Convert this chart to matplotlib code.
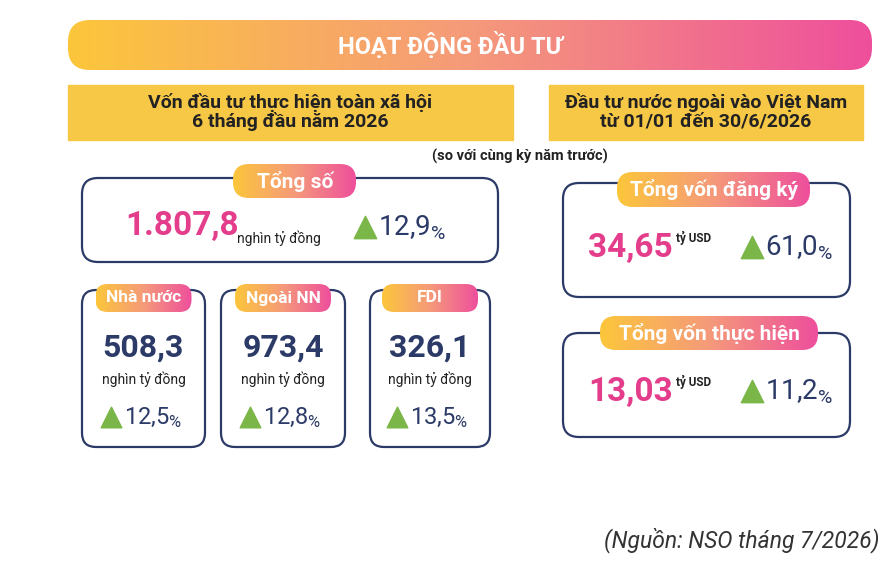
import matplotlib
matplotlib.use("Agg")
import matplotlib.pyplot as plt
import numpy as np
from matplotlib.patches import FancyBboxPatch
from matplotlib.colors import LinearSegmentedColormap

plt.rcParams['font.family'] = ['Roboto', 'DejaVu Sans']

title = "HOẠT ĐỘNG ĐẦU TƯ"
left_header = "Vốn đầu tư thực hiện toàn xã hội\n6 tháng đầu năm 2026"
right_header = "Đầu tư nước ngoài vào Việt Nam\ntừ 01/01 đến 30/6/2026"
note = "(so với cùng kỳ năm trước)"
total_label, total_value, total_unit, total_growth = "Tổng số", "1.807,8", "nghìn tỷ đồng", "12,9"
sub_labels = ["Nhà nước", "Ngoài NN", "FDI"]
sub_values = ["508,3", "973,4", "326,1"]
sub_growth = ["12,5", "12,8", "13,5"]
fdi_labels = ["Tổng vốn đăng ký", "Tổng vốn thực hiện"]
fdi_values = ["34,65", "13,03"]
fdi_growth = ["61,0", "11,2"]
source = "(Nguồn: NSO tháng 7/2026)"

W, H = 896, 566
fig = plt.figure(figsize=(W/100, H/100), dpi=100)
ax = fig.add_axes([0, 0, 1, 1])
ax.set_xlim(0, W); ax.set_ylim(H, 0); ax.axis('off')

NAVY = "#2b3a67"; PINK = "#e33d8c"; GREEN = "#7ab648"; YEL = "#f7c746"
cmap = LinearSegmentedColormap.from_list("g", ["#fcc63b", "#f59a7a", "#ee4f9c"])

def grad_box(x0, y0, x1, y1, r):
    p = FancyBboxPatch((x0, y0), x1-x0, y1-y0, boxstyle=f"round,pad=0,rounding_size={r}",
                       fc="none", ec="none")
    ax.add_patch(p)
    g = np.linspace(0, 1, 256).reshape(1, -1)
    im = ax.imshow(g, cmap=cmap, extent=(x0, x1, y1, y0), aspect='auto', zorder=2)
    im.set_clip_path(p)
    ax.set_xlim(0, W); ax.set_ylim(H, 0)

def outline(x0, y0, x1, y1, r=14):
    ax.add_patch(FancyBboxPatch((x0, y0), x1-x0, y1-y0, boxstyle=f"round,pad=0,rounding_size={r}",
                                fc="white", ec=NAVY, lw=1.6, zorder=1))

def growth_full(x, y, val, fs=20):
    ax.scatter([x], [y-1], marker='^', s=fs*13, color=GREEN, zorder=4)
    ax.text(x+13, y, val + "$\\mathregular{_{\\%}}$", fontsize=fs, color=NAVY, va='center', ha='left', zorder=4)

# title
grad_box(68, 20, 872, 70, 22)
ax.text(450, 46, title, color='white', fontsize=17, fontweight='bold', ha='center', va='center', zorder=3)

# headers
ax.add_patch(plt.Rectangle((68, 85), 445, 55, color=YEL, zorder=1))
ax.add_patch(plt.Rectangle((549, 85), 314, 55, color=YEL, zorder=1))
ax.text(290, 112, left_header, ha='center', va='center', fontsize=14, fontweight='bold', color='#222', linespacing=1.05)
ax.text(706, 112, right_header, ha='center', va='center', fontsize=14, fontweight='bold', color='#222', linespacing=1.05)
ax.text(520, 156, note, ha='center', va='center', fontsize=10.5, fontweight='bold', color='#222')

# total box
outline(82, 178, 498, 262, 16)
grad_box(233, 164, 356, 198, 16)
ax.text(295, 181, total_label, color='white', fontsize=15, fontweight='bold', ha='center', va='center', zorder=3)
ax.text(125, 226, total_value, color=PINK, fontsize=24, fontweight='bold', ha='left', va='center', zorder=3)
ax.text(237, 238, total_unit, color='#222', fontsize=10, ha='left', va='center')
growth_full(365, 228, total_growth, 20)

# sub boxes
xs = [(82, 205), (221, 345), (370, 490)]
for (x0, x1), lab, val, gr in zip(xs, sub_labels, sub_values, sub_growth):
    cx = (x0 + x1) / 2
    outline(x0, 290, x1, 447, 14)
    grad_box(cx-48, 284, cx+48, 312, 12)
    ax.text(cx, 298, lab, color='white', fontsize=12.5, fontweight='bold', ha='center', va='center', zorder=3)
    ax.text(cx, 348, val, color=NAVY, fontsize=23, fontweight='bold', ha='center', va='center', zorder=3)
    ax.text(cx, 379, "nghìn tỷ đồng", color='#222', fontsize=10, ha='center', va='center')
    growth_full(cx-33, 418, gr, 17)

# FDI boxes
boxes = [(183, 297, 172, 207, 617, 810, 248), (333, 437, 316, 350, 600, 818, 392)]
for (y0, y1, py0, py1, px0, px1, yv), lab, val, gr in zip(boxes, fdi_labels, fdi_values, fdi_growth):
    outline(563, y0, 850, y1, 16)
    grad_box(px0, py0, px1, py1, 16)
    ax.text((px0+px1)/2, (py0+py1)/2, lab, color='white', fontsize=15, fontweight='bold', ha='center', va='center', zorder=3)
    ax.text(588, yv, val, color=PINK, fontsize=24, fontweight='bold', ha='left', va='center', zorder=3)
    ax.text(676, yv-10, "tỷ USD", color='#222', fontsize=8.5, fontweight='bold', ha='left', va='center')
    growth_full(752, yv, gr, 20)

ax.text(880, 540, source, ha='right', va='center', fontsize=16.5, style='italic', color='#333')

fig.savefig("out.png", dpi=100)
